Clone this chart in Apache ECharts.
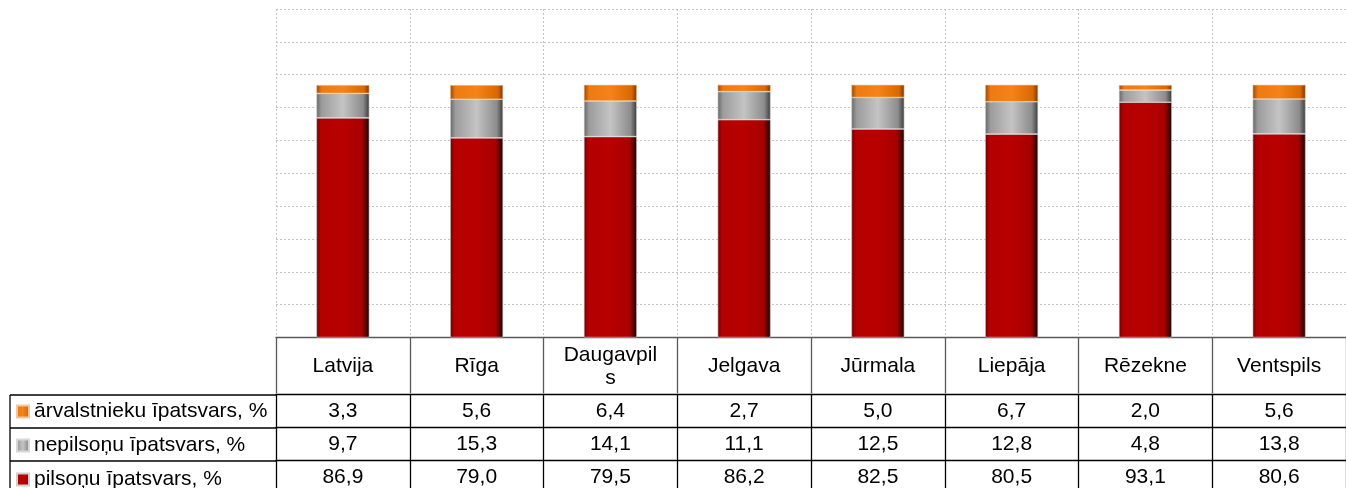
<!DOCTYPE html>
<html>
<head>
<meta charset="utf-8">
<script src="https://cdn.jsdelivr.net/npm/echarts@6/dist/echarts.min.js"></script>
<style>
  html, body { margin: 0; padding: 0; background: #fff; }
  #main { width: 1346px; height: 488px; }
</style>
</head>
<body>
<div id="main"></div>
<script>
var chartDom = document.getElementById('main');
var myChart = echarts.init(chartDom);
var option;

// data
const categories = ['Latvija', 'Rīga', 'Daugavpils', 'Jelgava', 'Jūrmala', 'Liepāja', 'Rēzekne', 'Ventspils'];
const arvalstnieki = [3.3, 5.6, 6.4, 2.7, 5.0, 6.7, 2.0, 5.6];
const nepilsoni = [9.7, 15.3, 14.1, 11.1, 12.5, 12.8, 4.8, 13.8];
const pilsoni = [86.9, 79.0, 79.5, 86.2, 82.5, 80.5, 93.1, 80.6];
const seriesNames = ['pilsoņu īpatsvars, %', 'nepilsoņu īpatsvars, %', 'ārvalstnieku īpatsvars, %'];

const font = "'Liberation Sans', Arial, sans-serif";
const fs = 21;
const fmt = v => v.toFixed(1).replace('.', ',');

function grad(stops) {
  return new echarts.graphic.LinearGradient(0, 0, 1, 0,
    stops.map(s => ({ offset: s[0], color: s[1] })));
}
const redFill = grad([[0, '#6e0000'], [0.08, '#b40000'], [0.5, '#b80000'], [0.86, '#a80000'], [0.95, '#4a0000'], [1, '#150000']]);
const grayFill = grad([[0, '#666'], [0.1, '#9c9c9c'], [0.5, '#c4c4c4'], [0.88, '#8c8c8c'], [1, '#3a3a3a']]);
const orangeFill = grad([[0, '#9a4600'], [0.1, '#ee7a12'], [0.5, '#f58318'], [0.9, '#d86800'], [1, '#7a3400']]);

// one table row under the plot: an extra category axis shifted down
function tableRow(offset, values) {
  return {
    type: 'category',
    gridIndex: 0,
    position: 'bottom',
    offset: offset,
    data: categories,
    axisLine: { lineStyle: { color: '#000', width: 1.3 } },
    axisTick: { show: true, length: 33, lineStyle: { color: '#000', width: 1.3 } },
    axisLabel: {
      margin: 17,
      verticalAlign: 'middle',
      fontSize: fs,
      fontFamily: font,
      color: '#000',
      interval: 0,
      formatter: (v, i) => fmt(values[i])
    },
    splitLine: { show: false }
  };
}

option = {
  animation: false,
  grid: { left: 276, right: -3, top: 9, bottom: 150 },
  legend: {
    orient: 'vertical',
    left: 16,
    top: 401,
    height: 120,
    itemGap: 13,
    itemWidth: 12,
    itemHeight: 12,
    icon: 'rect',
    padding: 0,
    data: [seriesNames[2], seriesNames[1], seriesNames[0]],
    textStyle: { fontSize: fs, fontFamily: font, color: '#000', lineHeight: 20 }
  },
  xAxis: [
    {
      type: 'category',
      data: categories,
      axisLine: { lineStyle: { color: '#595959', width: 1.3 } },
      axisTick: { show: true, length: 56, lineStyle: { color: '#595959', width: 1.3 } },
      axisLabel: {
        margin: 29,
        verticalAlign: 'middle',
        fontSize: fs,
        fontFamily: font,
        color: '#000',
        interval: 0,
        width: 98,
        overflow: 'breakAll',
        lineHeight: 23
      },
      splitLine: { show: true, lineStyle: { type: [2, 2], color: '#c4c4c4' } }
    },
    tableRow(57, arvalstnieki),
    tableRow(90, nepilsoni),
    tableRow(123, pilsoni)
  ],
  yAxis: {
    type: 'value',
    min: 0,
    max: 130,
    interval: 13,
    axisLabel: { show: false },
    axisLine: { show: false },
    axisTick: { show: false },
    splitLine: { lineStyle: { type: [2, 2], color: '#c4c4c4' } }
  },
  // borders of the legend column on the left
  graphic: [
    { type: 'line', shape: { x1: 10, y1: 395, x2: 276, y2: 395 }, style: { stroke: '#000', lineWidth: 1.3 } },
    { type: 'line', shape: { x1: 10, y1: 428, x2: 276, y2: 428 }, style: { stroke: '#000', lineWidth: 1.3 } },
    { type: 'line', shape: { x1: 10, y1: 461, x2: 276, y2: 461 }, style: { stroke: '#000', lineWidth: 1.3 } },
    { type: 'line', shape: { x1: 10, y1: 395, x2: 10, y2: 488 }, style: { stroke: '#000', lineWidth: 1.3 } }
  ],
  series: [
    {
      name: seriesNames[0],
      type: 'bar',
      stack: 'total',
      barWidth: 53,
      itemStyle: { color: redFill, borderColor: '#cfcfcf', borderWidth: 0.6 },
      data: pilsoni
    },
    {
      name: seriesNames[1],
      type: 'bar',
      stack: 'total',
      barWidth: 53,
      itemStyle: { color: grayFill, borderColor: '#d8d8d8', borderWidth: 0.6 },
      data: nepilsoni
    },
    {
      name: seriesNames[2],
      type: 'bar',
      stack: 'total',
      barWidth: 53,
      itemStyle: { color: orangeFill, borderColor: '#f0c8a0', borderWidth: 0.6 },
      data: arvalstnieki
    }
  ]
};

option && myChart.setOption(option);
</script>
</body>
</html>
